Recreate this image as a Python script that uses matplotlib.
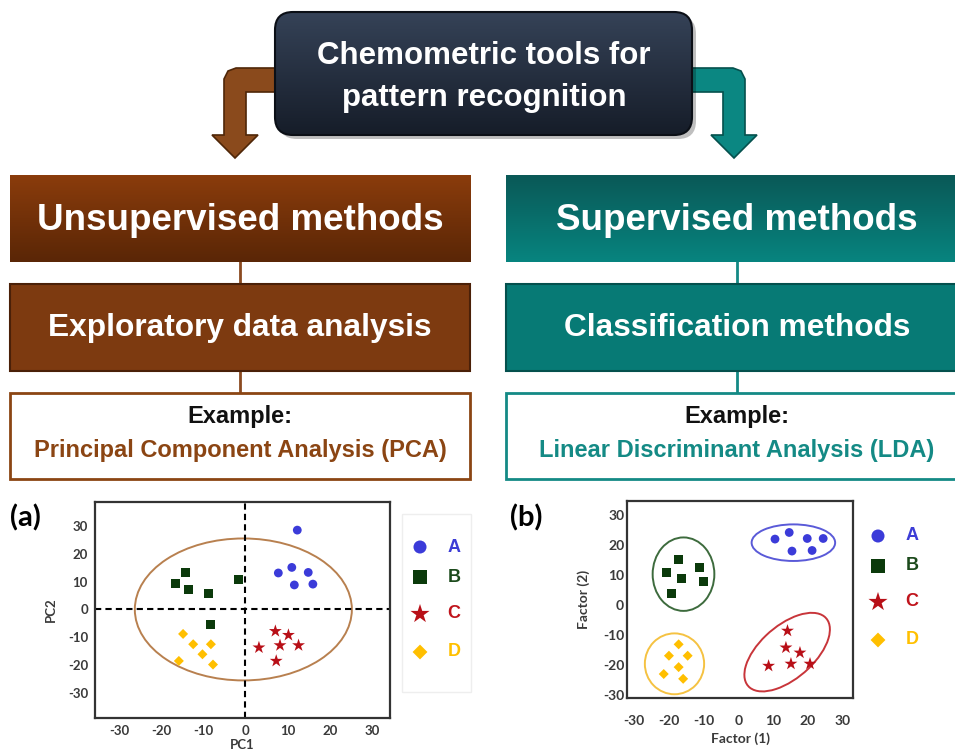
import numpy as np
import matplotlib
matplotlib.use("Agg")
import matplotlib.pyplot as plt
from matplotlib.patches import Rectangle, FancyBboxPatch, Ellipse, Polygon
from matplotlib.colors import to_rgb

plt.rcParams["axes.unicode_minus"] = False

W, H = 955, 749

# group styling shared by both score plots
GROUPS    = ["A", "B", "C", "D"]
MARKERS   = ["o", "s", "*", "D"]
COLORS    = ["#3b3bd9", "#0b3a0b", "#b80f17", "#ffbf00"]
TXT_COLS  = ["#3d3dd6", "#1c4a1c", "#c0141c", "#ffc000"]
SIZES     = [40, 42, 95, 26]

# PCA scores (PC1, PC2)
pca_a_x = [12.3, 7.8, 11.0, 14.9, 11.6, 16.0]
pca_a_y = [28.5, 13.1, 15.1, 13.3, 8.8, 9.1]
pca_b_x = [-16.7, -14.2, -13.4, -8.7, -1.6, -8.2]
pca_b_y = [9.2, 13.3, 7.0, 5.9, 10.6, -5.3]
pca_c_x = [7.1, 10.2, 3.2, 8.2, 12.6, 7.3]
pca_c_y = [-7.8, -9.2, -13.7, -12.9, -12.9, -18.5]
pca_d_x = [-14.8, -12.4, -8.2, -10.2, -15.8, -7.7]
pca_d_y = [-8.8, -12.5, -12.5, -16.1, -18.5, -19.8]

# LDA scores (Factor 1, Factor 2)
lda_a_x = [10.6, 14.7, 19.9, 24.5, 15.5, 21.3]
lda_a_y = [22.0, 24.2, 22.2, 22.2, 18.0, 18.2]
lda_b_x = [-17.3, -20.7, -11.25, -16.4, -10.0, -19.2]
lda_b_y = [15.1, 11.0, 12.4, 8.9, 7.8, 3.9]
lda_c_x = [14.2, 13.75, 17.8, 15.2, 20.7, 8.75]
lda_c_y = [-8.6, -14.2, -15.9, -19.6, -19.6, -20.3]
lda_d_x = [-17.2, -20.0, -14.6, -17.2, -21.5, -15.9]
lda_d_y = [-13.1, -16.9, -16.9, -20.7, -23.0, -24.6]

# class ellipses for LDA: centre x, centre y, width, height, angle
lda_ell_cx = [15.9, -15.8, 14.1, -18.4]
lda_ell_cy = [20.8, 10.3, -15.7, -19.6]
lda_ell_w  = [24.1, 17.8, 32.0, 17.1]
lda_ell_h  = [12.2, 24.5, 16.5, 20.3]
lda_ell_a  = [0, 0, 48, 0]
lda_ell_c  = ["#5a5ad8", "#3d6b3d", "#c8353a", "#f5c242"]

TICKS = [-30, -20, -10, 0, 10, 20, 30]

BROWN = "#8b4513"
TEAL  = "#148a85"
DIAG_FONT = ["Liberation Sans", "DejaVu Sans"]
PLOT_FONT = ["Lato", "DejaVu Sans"]

fig = plt.figure(figsize=(W / 100, H / 100), dpi=100)
bg = fig.add_axes([0, 0, 1, 1])
bg.set_xlim(0, W)
bg.set_ylim(H, 0)
bg.axis("off")


def gradient_rect(ax, x, y, w, h, top, bottom, clip=None, z=2):
    t = np.linspace(0, 1, 64)[:, None]
    c0, c1 = np.array(to_rgb(top)), np.array(to_rgb(bottom))
    img = (c0 * (1 - t) + c1 * t)[:, None, :]
    im = ax.imshow(img, extent=(x, x + w, y + h, y), origin="upper",
                   aspect="auto", zorder=z, interpolation="bilinear")
    if clip is not None:
        im.set_clip_path(clip)
    return im


def px_axes(left, top, right, bottom):
    return fig.add_axes([left / W, (H - bottom) / H, (right - left) / W, (bottom - top) / H])


# ---- elbow arrows from the title box ----
brown_arrow = [(285, 68), (236, 68), (228, 71), (224, 79), (224, 135), (212, 135),
               (235, 158), (258, 135), (246, 135), (246, 92), (285, 92)]
teal_arrow = [(680, 68), (733, 68), (741, 71), (745, 79), (745, 135), (757, 135),
              (734, 158), (711, 135), (723, 135), (723, 92), (680, 92)]
bg.add_patch(Polygon(brown_arrow, closed=True, fc="#8a4a1c", ec="#4f2608", lw=1.2, zorder=1))
bg.add_patch(Polygon(teal_arrow, closed=True, fc="#0b8782", ec="#05504d", lw=1.2, zorder=1))

# ---- title box ----
bg.add_patch(FancyBboxPatch((279, 16), 417, 123, boxstyle="round,pad=0,rounding_size=18",
                            fc="#000000", ec="none", alpha=0.25, zorder=2))
title_box = FancyBboxPatch((275, 12), 417, 123, boxstyle="round,pad=0,rounding_size=18",
                           fc="none", ec="#0b0f16", lw=1.5, zorder=4)
bg.add_patch(title_box)
gradient_rect(bg, 275, 12, 417, 123, "#354257", "#161d29", clip=title_box, z=3)
bg.text(484, 77, "Chemometric tools for\npattern recognition", color="white",
        fontsize=22.5, weight="bold", family=DIAG_FONT, ha="center", va="center",
        linespacing=1.5, zorder=5)

# ---- method columns ----
columns = [
    dict(x=10, cx=240, color=BROWN, top=("#8a3c0c", "#5a2606"), mid="#7d3a10",
         mid_edge="#4a2008", line="#8b4a20",
         t1="Unsupervised methods", t2="Exploratory data analysis",
         t3="Principal Component Analysis (PCA)"),
    dict(x=506, cx=737, color=TEAL, top=("#0a5957", "#07847f"), mid="#077a75",
         mid_edge="#04504d", line="#148a85",
         t1="Supervised methods", t2="Classification methods",
         t3="Linear Discriminant Analysis (LDA)"),
]
for col in columns:
    x = col["x"]
    gradient_rect(bg, x, 175, 460, 87, *col["top"])
    bg.text(col["cx"], 220, col["t1"], color="white", fontsize=26.5, weight="bold",
            family=DIAG_FONT, ha="center", va="center", zorder=5)
    bg.plot([col["cx"], col["cx"]], [262, 284], color=col["line"], lw=2, zorder=1)
    bg.add_patch(Rectangle((x, 284), 460, 87, fc=col["mid"], ec=col["mid_edge"], lw=1.5, zorder=2))
    bg.text(col["cx"], 328, col["t2"], color="white", fontsize=22.8, weight="bold",
            family=DIAG_FONT, ha="center", va="center", zorder=5)
    bg.plot([col["cx"], col["cx"]], [371, 393], color=col["line"], lw=2, zorder=1)
    bg.add_patch(Rectangle((x, 393), 460, 86, fc="white", ec=col["color"], lw=2, zorder=2))
    bg.text(col["cx"], 416, "Example:", color="#111111", fontsize=17, weight="bold",
            family=DIAG_FONT, ha="center", va="center", zorder=5)
    bg.text(col["cx"], 451, col["t3"], color=col["color"], fontsize=17, weight="bold",
            family=DIAG_FONT, ha="center", va="center", zorder=5)

# panel letters
bg.text(10, 518, "(a)", fontsize=21, weight="bold", family=PLOT_FONT, va="center", ha="left")
bg.text(510, 518, "(b)", fontsize=21, weight="bold", family=PLOT_FONT, va="center", ha="left")

# ---- legends ----
bg.add_patch(Rectangle((402, 514), 69, 178, fc="white", ec="#eeeeee", lw=1, zorder=1))
leg_a_rows = [547, 577, 614, 652]
leg_b_rows = [536, 566, 602, 640]
for mx, tx, rows in [(420, 454, leg_a_rows), (878, 912, leg_b_rows)]:
    for g, m, c, tc, s, ry in zip(GROUPS, MARKERS, COLORS, TXT_COLS, SIZES, rows):
        bg.scatter([mx], [ry], marker=m, s=s * 2.2, color=c, edgecolors="none", zorder=3)
        bg.text(tx, ry, g, color=tc, fontsize=13, weight="bold", family=DIAG_FONT,
                ha="center", va="center", zorder=3)


def style_axes(ax, xlabel, ylabel, fs):
    ax.set_xticks(TICKS)
    ax.set_yticks(TICKS)
    ax.tick_params(length=0, labelsize=fs, labelcolor="#3a3a3a")
    for lab in ax.get_xticklabels() + ax.get_yticklabels():
        lab.set_fontweight("bold")
        lab.set_family(PLOT_FONT)
    for sp in ax.spines.values():
        sp.set_linewidth(1.6)
        sp.set_color("#333333")
    ax.set_xlabel(xlabel, fontsize=fs, weight="bold", family=PLOT_FONT, color="#3a3a3a")
    ax.set_ylabel(ylabel, fontsize=fs, weight="bold", family=PLOT_FONT, color="#3a3a3a")


# ---- (a) PCA score plot ----
ax1 = px_axes(95, 502, 390, 718)
ax1.set_xlim(-35.7, 34.3)
ax1.set_ylim(-39, 38.6)
ax1.axhline(0, color="black", lw=1.5, ls=(0, (3, 2)))
ax1.axvline(0, color="black", lw=1.5, ls=(0, (3, 2)))
ax1.add_patch(Ellipse((-0.5, 0), 51.5, 51, fill=False, ec="#b8804f", lw=1.4))
pca_sets = [(pca_a_x, pca_a_y), (pca_b_x, pca_b_y), (pca_c_x, pca_c_y), (pca_d_x, pca_d_y)]
for (xs, ys), m, c, s in zip(pca_sets, MARKERS, COLORS, SIZES):
    ax1.scatter(xs, ys, marker=m, s=s, color=c, edgecolors="none", zorder=3)
style_axes(ax1, "PC1", "PC2", 9.5)
ax1.tick_params(axis="x", pad=5)
ax1.tick_params(axis="y", pad=5)
ax1.xaxis.set_label_coords(0.5, -0.095)
ax1.yaxis.set_label_coords(-0.13, 0.5)

# ---- (b) LDA score plot ----
ax2 = px_axes(627, 501, 853, 698)
ax2.set_xlim(-32.1, 33.1)
ax2.set_ylim(-31, 34.7)
for cx, cy, w, h, a, c in zip(lda_ell_cx, lda_ell_cy, lda_ell_w, lda_ell_h, lda_ell_a, lda_ell_c):
    ax2.add_patch(Ellipse((cx, cy), w, h, angle=a, fill=False, ec=c, lw=1.4))
lda_sets = [(lda_a_x, lda_a_y), (lda_b_x, lda_b_y), (lda_c_x, lda_c_y), (lda_d_x, lda_d_y)]
for (xs, ys), m, c, s in zip(lda_sets, MARKERS, COLORS, SIZES):
    ax2.scatter(xs, ys, marker=m, s=s, color=c, edgecolors="none", zorder=3)
style_axes(ax2, "Factor (1)", "Factor (2)", 10)
ax2.tick_params(axis="x", pad=12)
ax2.tick_params(axis="y", pad=2)
ax2.xaxis.labelpad = 4
ax2.yaxis.set_label_coords(-0.165, 0.5)

fig.savefig("out.png", dpi=100)
